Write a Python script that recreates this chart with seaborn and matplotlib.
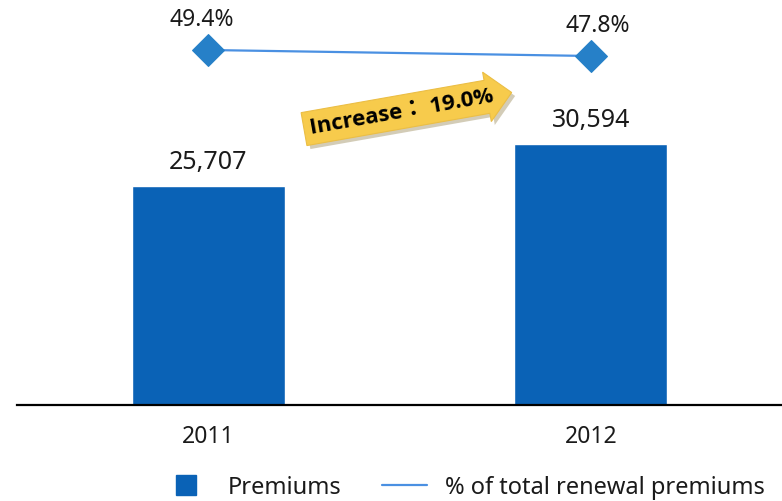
import matplotlib
matplotlib.use("Agg")
import matplotlib.pyplot as plt
import matplotlib.patheffects as pe
from matplotlib.lines import Line2D
import seaborn as sns
import pandas as pd

years = ["2011", "2012"]
premiums = [25707, 30594]
renewal_pct = [49.4, 47.8]
growth_label = "Increase： 19.0%"
legend_labels = ["Premiums", "% of total renewal premiums"]

BAR_COLOR = "#0A62B6"
LINE_COLOR = "#4A90E2"
MARKER_COLOR = "#2680C8"
TEXT_COLOR = "#1a1a1a"

sns.set_theme(style="white")
plt.rcParams["font.family"] = ["Noto Sans", "Noto Sans CJK KR", "DejaVu Sans"]

fig = plt.figure(figsize=(7.82, 5.02), dpi=100)
ax = fig.add_axes([17 / 782, 96 / 502, 765 / 782, 406 / 502])

df = pd.DataFrame({"year": years, "premiums": premiums, "pct": renewal_pct})
sns.barplot(data=df, x="year", y="premiums", color=BAR_COLOR, saturation=1,
            width=0.4, ax=ax)
ax.set_xlim(-0.5, 1.5)
ax.set_ylim(0, 47660)
ax.set_xlabel("")
ax.set_ylabel("")
ax.set_yticks([])
for s in ["top", "right", "left"]:
    ax.spines[s].set_visible(False)
ax.spines["bottom"].set_color("black")
ax.spines["bottom"].set_linewidth(1.6)
ax.tick_params(axis="x", length=0, pad=14, labelsize=16.5, labelcolor=TEXT_COLOR)

for i, v in enumerate(premiums):
    ax.annotate(f"{v:,}", (i, v), xytext=(0, 9), textcoords="offset points",
                ha="center", va="bottom", fontsize=18, color=TEXT_COLOR)

# renewal share on its own scale
ax2 = ax.twinx()
sns.lineplot(x=[0, 1], y=renewal_pct, ax=ax2, color=LINE_COLOR, lw=1.6,
             marker="D", markersize=16.5, markerfacecolor=MARKER_COLOR,
             markeredgecolor=MARKER_COLOR)
ax2.set_ylim(-45.27, 63.0)
ax2.set_yticks([])
for s in ax2.spines.values():
    s.set_visible(False)
for i, v in enumerate(renewal_pct):
    ax2.annotate(f"{v}%", (i, v), xytext=(-5 if i == 0 else 5, 14),
                 textcoords="offset points", ha="center", va="bottom",
                 fontsize=16.5, color=TEXT_COLOR)

# growth arrow
t = ax.text(0.503, 0.722, growth_label, transform=ax.transAxes, ha="center",
            va="center", rotation=10, fontsize=16, fontweight="bold",
            color="black", family=["Open Sans", "Noto Sans CJK KR", "DejaVu Sans"],
            bbox=dict(boxstyle="rarrow,pad=0.28", fc="#F7CB4C", ec="#EBBE45",
                      lw=0.8))
t.get_bbox_patch().set_path_effects([
    pe.SimplePatchShadow(offset=(2.5, -2.5), shadow_rgbFace="#a89a70", alpha=0.5),
    pe.Normal()])

handles = [
    Line2D([], [], marker="s", linestyle="none", markersize=14,
           markerfacecolor=BAR_COLOR, markeredgecolor=BAR_COLOR),
    Line2D([], [], color=LINE_COLOR, lw=1.6),
]
fig.legend(handles, legend_labels, loc="center left",
           bbox_to_anchor=(164 / 782, 14 / 502), ncol=2, frameon=False,
           fontsize=17, handlelength=1.9, handletextpad=0.8,
           columnspacing=1.7, borderpad=0, borderaxespad=0,
           labelcolor=TEXT_COLOR)

fig.savefig("out.png", dpi=100)
